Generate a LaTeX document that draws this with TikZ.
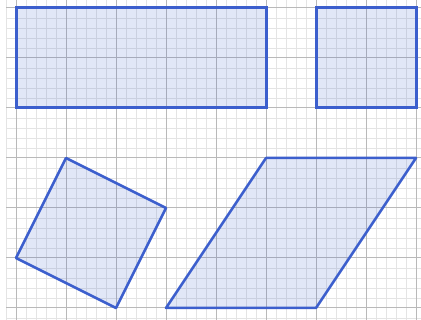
\documentclass[tikz,border=0pt]{standalone}
\definecolor{minorgrid}{RGB}{228,228,228}
\definecolor{majorgrid}{RGB}{185,185,185}
\definecolor{shapeblue}{RGB}{60,95,205}
\tikzset{
  minor/.style={draw=minorgrid, line width=0.8pt},
  major/.style={draw=majorgrid, line width=1pt},
  rectshape/.style={draw=shapeblue, fill=shapeblue, fill opacity=0.15, line width=3pt, line join=miter},
  tiltshape/.style={draw=shapeblue, fill=shapeblue, fill opacity=0.15, line width=2.5pt, line join=round}
}
\begin{document}
\begin{tikzpicture}[x=1pt,y=-1pt]
\useasboundingbox (0,0) rectangle (421,320);
\fill[white] (0,0) rectangle (421,320);
% minor grid
\foreach \x in {6,26,36,46,56,76,86,96,106,126,136,146,156,176,186,196,206,226,236,246,256,276,286,296,306,326,336,346,356,376,386,396,406}
  \draw[minor] (\x,0) -- (\x,320);
\foreach \y in {18,28,38,48,68,78,88,98,118,128,138,148,168,178,188,198,218,228,238,248,268,278,288,298,318}
  \draw[minor] (6,\y) -- (421,\y);
% major grid
\foreach \x in {16,66,116,166,216,266,316,366,416}
  \draw[major] (\x,0) -- (\x,320);
\foreach \y in {8,58,108,158,208,258,308}
  \draw[major] (6,\y) -- (421,\y);
% shapes
\draw[rectshape] (16,8) rectangle (266,108);
\draw[rectshape] (316,8) rectangle (416,108);
\draw[tiltshape] (66,158) -- (166,208) -- (116,308) -- (16,258) -- cycle;
\draw[tiltshape] (266,158) -- (416,158) -- (316,308) -- (166,308) -- cycle;
\end{tikzpicture}
\end{document}
